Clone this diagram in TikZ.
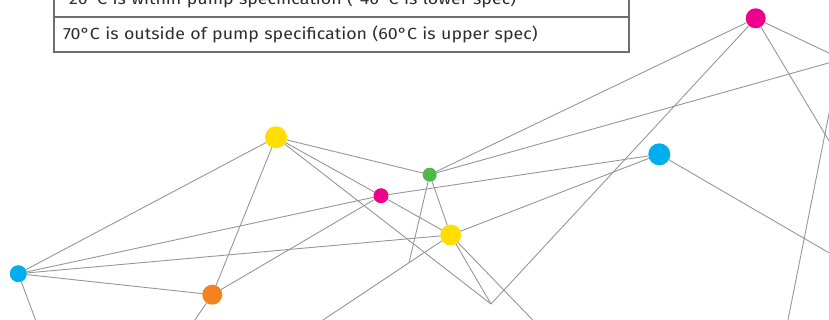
\documentclass[tikz,border=0pt]{standalone}
\usepackage{fontspec}
\setmainfont{Fira Sans}
\newfontfamily\cellfont{Fira Sans}[FakeStretch=1.1]
\usetikzlibrary{positioning}
\definecolor{rubine}{RGB}{236, 0, 140}
\definecolor{processcyan}{RGB}{0, 174, 239}
\definecolor{leafgreen}{RGB}{80, 184, 72}
\definecolor{sunyellow}{RGB}{255, 222, 0}
\definecolor{tangerine}{RGB}{245, 130, 32}
\definecolor{wiregray}{RGB}{150, 150, 150}
\definecolor{cellgray}{RGB}{110, 110, 110}
\definecolor{inkgray}{RGB}{45, 45, 45}

\tikzset{
    dot/.style={circle, fill=#1, inner sep=0pt, outer sep=0pt},
    wire/.style={draw=wiregray, line width=0.9pt},
    cell/.style={draw=cellgray, line width=1.2pt, text=inkgray, outer sep=0pt,
                 minimum height=35pt, text width=557pt, inner xsep=9pt, inner ysep=0pt,
                 align=left, text height=10.8pt, text depth=0pt,
                 font=\cellfont\fontsize{16.2}{18}\selectfont}
}

\begin{document}
\begin{tikzpicture}[x=1pt, y=-1pt]
            \useasboundingbox (0, 0) rectangle (829, 320);
            \clip (0, 0) rectangle (829, 320);
            % Spec table
            \node[cell, anchor=north west]    (rowhigh) at ( 54.0,  17.0) {70°C is outside of pump specification (60°C is upper spec)};
            \node[cell, above=0pt of rowhigh] (rowlow)                    {-20°C is within pump specification (-40°C is lower spec)};
            % Dots
            \node[dot=rubine,      minimum size=20pt] (magtop)  at (755.7,  18.3) {};
            \node[dot=processcyan, minimum size=22pt] (bluer)   at (659.3, 154.3) {};
            \node[dot=leafgreen,   minimum size=14pt] (green)   at (429.7, 174.7) {};
            \node[dot=sunyellow,   minimum size=21pt] (yellowl) at (450.7, 235.0) {};
            \node[dot=sunyellow,   minimum size=22pt] (yellowu) at (276.0, 137.3) {};
            \node[dot=rubine,      minimum size=15pt] (magmid)  at (381.0, 195.7) {};
            \node[dot=processcyan, minimum size=17pt] (bluel)   at ( 18.3, 273.7) {};
            \node[dot=tangerine,   minimum size=20pt] (orange)  at (212.3, 294.7) {};
            % Bends
            \coordinate (vee)   at (491.0, 304.0);
            \coordinate (kink)  at (409.0, 262.8);
            % Ends outside the frame
            \coordinate (offbl) at ( 43.0, 340.0);
            \coordinate (offor) at (181.0, 340.0);
            \coordinate (offyl) at (293.0, 340.0);
            \coordinate (offyr) at (552.0, 340.0);
            \coordinate (offgr) at (850.0,  57.0);
            \coordinate (offmt) at (850.0,  63.0);
            \coordinate (offmd) at (850.0, 176.0);
            \coordinate (offbr) at (850.0, 265.0);
            \coordinate (offlo) at (784.0, 340.0);
            \coordinate (offhi) at (850.0,   8.0);
            % Links
            \draw[wire] (bluel)   -- (yellowu);
            \draw[wire] (bluel)   -- (magmid);
            \draw[wire] (bluel)   -- (yellowl);
            \draw[wire] (bluel)   -- (orange);
            \draw[wire] (bluel)   -- (offbl);
            \draw[wire] (yellowu) -- (orange);
            \draw[wire] (yellowu) -- (green);
            \draw[wire] (yellowu) -- (magmid);
            \draw[wire] (yellowu) -- (vee);
            \draw[wire] (magmid)  -- (yellowl);
            \draw[wire] (magmid)  -- (orange);
            \draw[wire] (magmid)  -- (bluer);
            \draw[wire] (green)   -- (magtop);
            \draw[wire] (green)   -- (offgr);
            \draw[wire] (green)   -- (yellowl);
            \draw[wire] (green)   -- (kink);
            \draw[wire] (yellowl) -- (bluer);
            \draw[wire] (yellowl) -- (vee);
            \draw[wire] (yellowl) -- (offyr);
            \draw[wire] (yellowl) -- (offyl);
            \draw[wire] (vee)     -- (magtop);
            \draw[wire] (magtop)  -- (offmt);
            \draw[wire] (magtop)  -- (offmd);
            \draw[wire] (bluer)   -- (offbr);
            \draw[wire] (orange)  -- (offor);
            \draw[wire] (offlo)   -- (offhi);
\end{tikzpicture}
\end{document}
